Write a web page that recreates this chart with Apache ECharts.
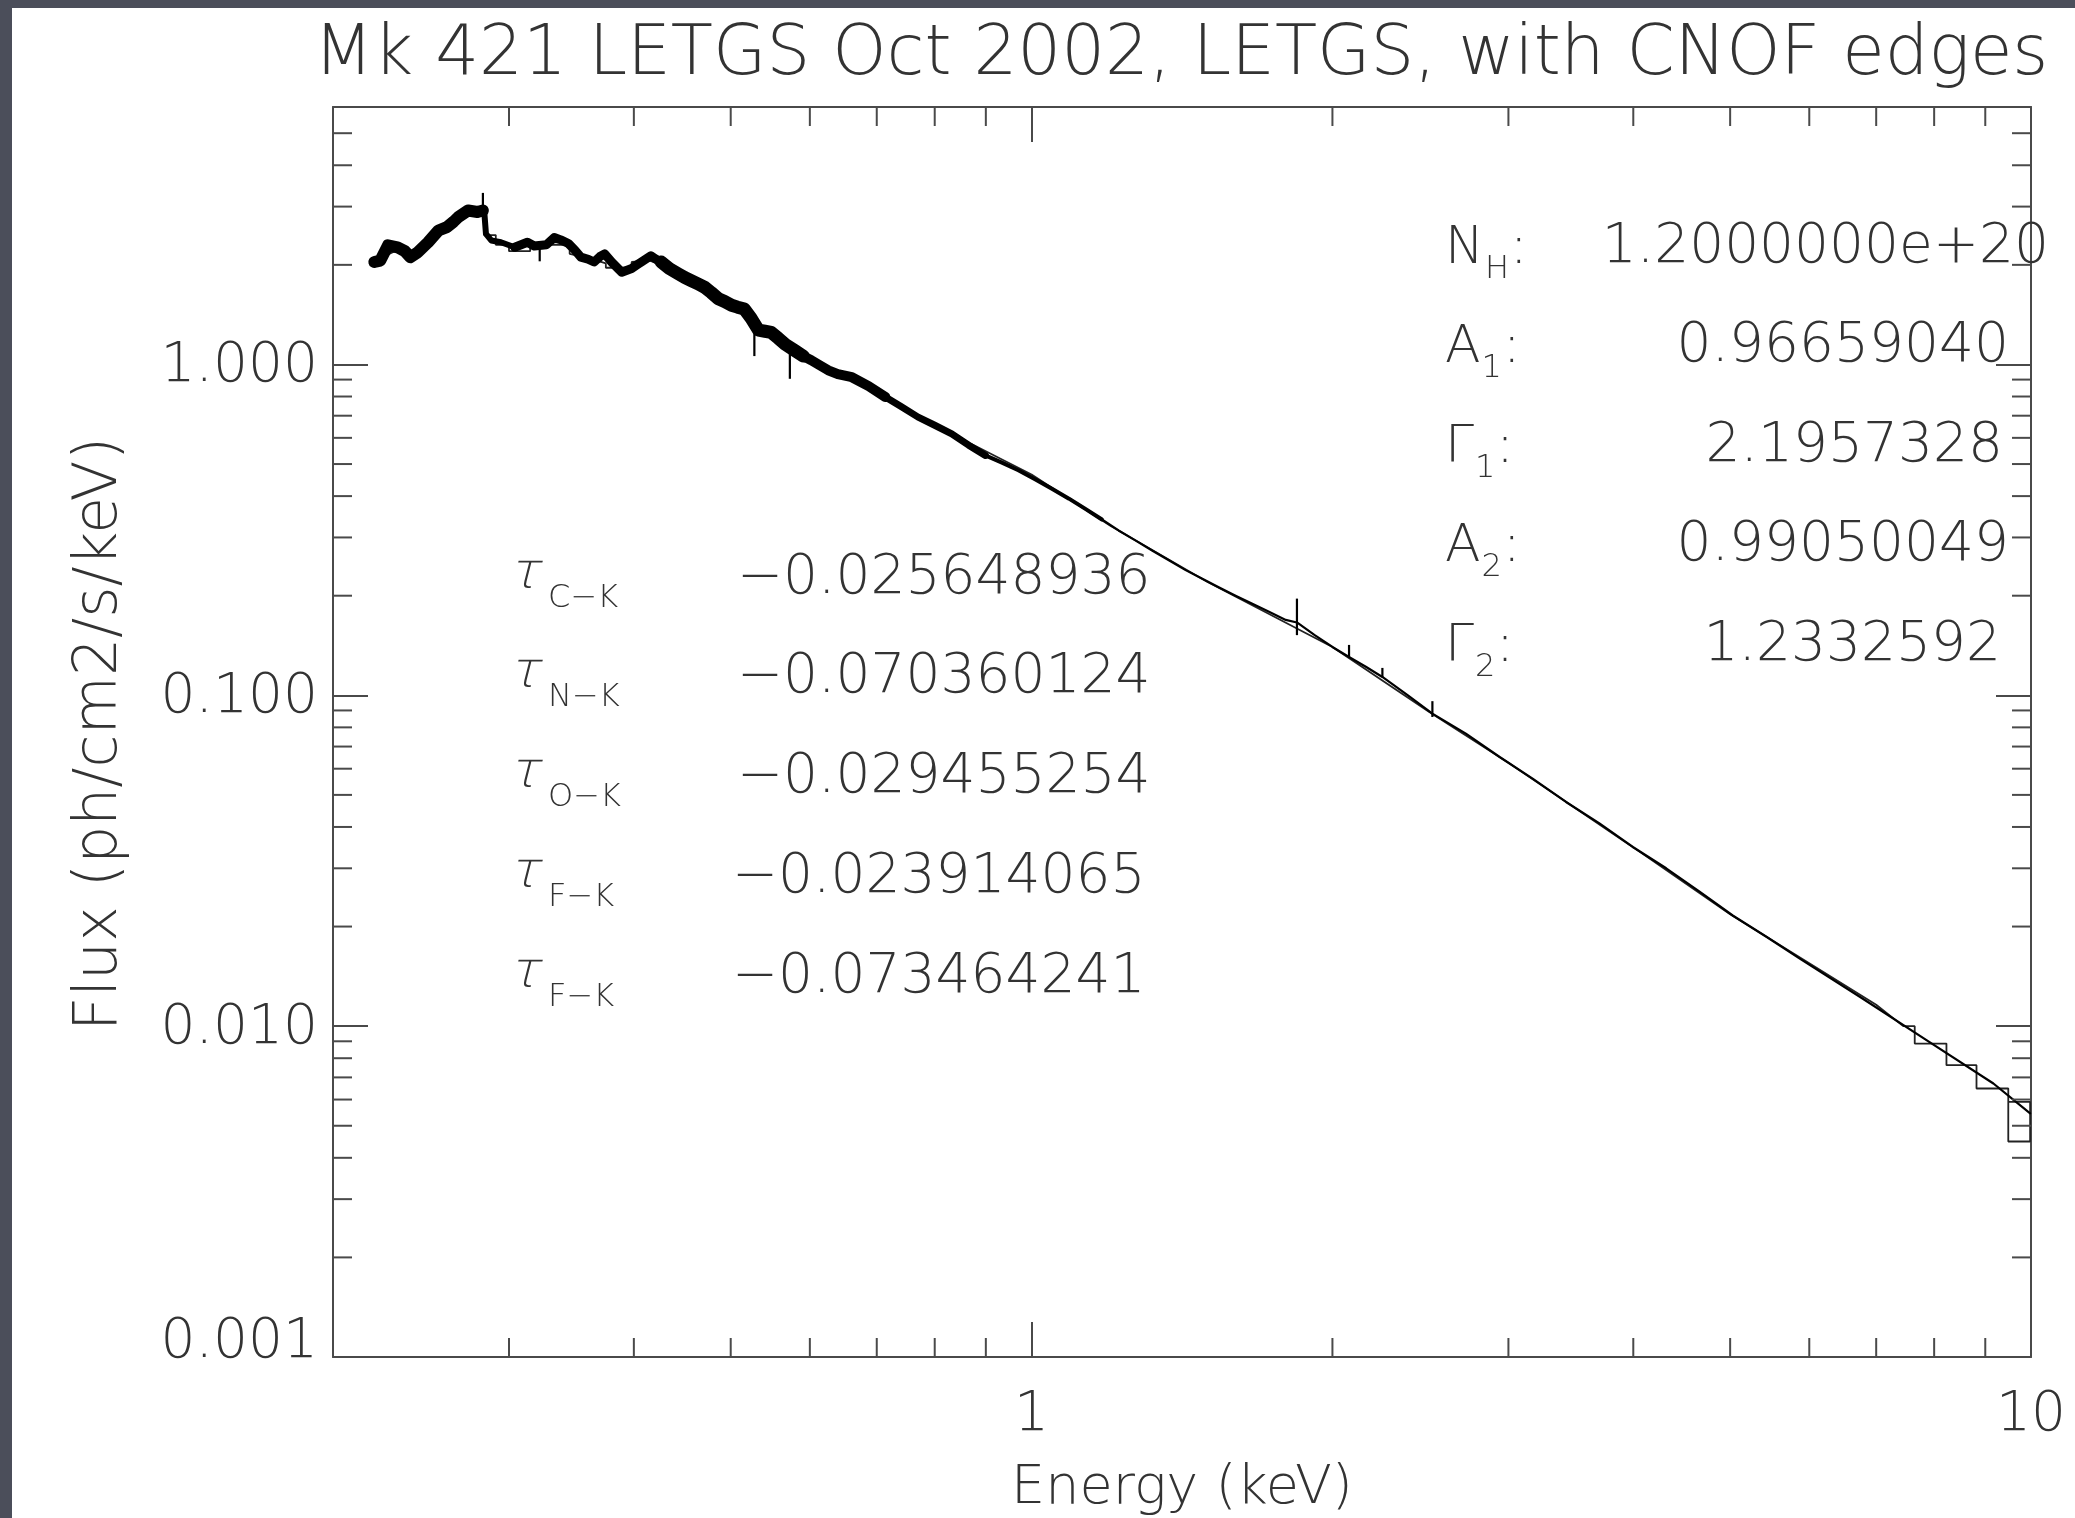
<!DOCTYPE html>
<html>
<head>
<meta charset="utf-8">
<script src="https://cdn.jsdelivr.net/npm/echarts@6/dist/echarts.min.js"></script>
<style>
html,body{margin:0;padding:0;background:#4b4e5a;}
#chart{width:2075px;height:1518px;}
</style>
</head>
<body>
<div id="chart"></div>
<script>
// ---------------- text ----------------
const titleText = 'Mk 421 LETGS Oct 2002, LETGS, with CNOF edges';
const xAxisTitle = 'Energy (keV)';
const yAxisTitle = 'Flux (ph/cm2/s/keV)';

// ---------------- axes ----------------
const xRange = [0.2, 10];
const yRange = [0.001, 6];
const xMinorTicks = [0.3, 0.4, 0.5, 0.6, 0.7, 0.8, 0.9, 2, 3, 4, 5, 6, 7, 8, 9];
const yMinorTicks = [0.002, 0.003, 0.004, 0.005, 0.006, 0.007, 0.008, 0.009,
                     0.02, 0.03, 0.04, 0.05, 0.06, 0.07, 0.08, 0.09,
                     0.2, 0.3, 0.4, 0.5, 0.6, 0.7, 0.8, 0.9,
                     2, 3, 4, 5];

// ---------------- data: [energy keV, flux] ----------------
const dataPoints = [
  [0.220,2.04],[0.223,2.06],[0.227,2.29],[0.232,2.26],[0.236,2.20],[0.239,2.11],[0.243,2.18],
  [0.249,2.34],[0.255,2.54],[0.260,2.60],[0.264,2.70],[0.267,2.79],[0.273,2.92],[0.279,2.89],
  [0.2825,2.92],[0.2835,2.85],[0.2845,2.48],[0.288,2.37],[0.2945,2.34],[0.304,2.26],[0.313,2.34],
  [0.318,2.28],[0.327,2.30],[0.333,2.42],[0.338,2.38],[0.344,2.32],[0.349,2.22],[0.354,2.11],
  [0.360,2.08],[0.365,2.04],[0.370,2.12],[0.374,2.16],[0.380,2.04],[0.385,1.96],[0.389,1.90],
  [0.398,1.95],[0.403,2.00],[0.407,2.04],[0.416,2.13],[0.421,2.08],[0.426,2.04],[0.434,1.95],
  [0.443,1.88],[0.450,1.83],[0.457,1.79],[0.464,1.75],[0.471,1.71],[0.478,1.65],[0.486,1.58],
  [0.493,1.55],[0.501,1.51],[0.508,1.49],[0.516,1.47],[0.524,1.38],[0.533,1.27],[0.541,1.26],
  [0.549,1.25],[0.558,1.20],[0.567,1.15],[0.580,1.10],[0.591,1.06],[0.602,1.03],[0.612,1.00],
  [0.626,0.96],[0.640,0.935],[0.661,0.915],[0.687,0.86],[0.714,0.797],[0.741,0.745],[0.770,0.693],
  [0.800,0.655],[0.832,0.617],[0.865,0.570],[0.899,0.531],[0.934,0.505],[0.970,0.479],[1.008,0.450],
  [1.048,0.421],[1.090,0.393],[1.132,0.366],[1.176,0.340],[1.222,0.315],[1.270,0.294],[1.320,0.274],
  [1.372,0.256],[1.426,0.239],[1.482,0.225],[1.539,0.212],[1.600,0.200],[1.663,0.189],[1.728,0.179],
  [1.796,0.169],[1.843,0.166],[1.920,0.152],[2.000,0.140],[2.078,0.1305],[2.160,0.122],[2.244,0.1136],
  [2.380,0.100],[2.518,0.088],[2.720,0.0766],[2.940,0.0651],[3.172,0.0560],[3.426,0.0476],[3.700,0.0410],
  [3.996,0.0348],[4.315,0.0300],[4.660,0.0255],[5.030,0.0216],[5.440,0.0186],[5.870,0.0160],
  [6.740,0.01227],[7.860,0.00907],[9.170,0.00671],[9.980,0.00545]
];

// narrow spikes / dips in the data: [energy, low flux, high flux]
const spikePoints = [
  [0.2825,2.95,3.30],[0.322,2.05,2.30],[0.528,1.06,1.36],[0.573,0.905,1.12],
  [1.843,0.152,0.196],[2.078,0.1305,0.142],[2.244,0.1136,0.121],[2.518,0.086,0.096]
];

// binned model (histogram steps): [energy, flux]
const modelPoints = [
  [0.220,2.05],[0.232,2.22],[0.240,2.14],[0.250,2.36],[0.262,2.64],[0.272,2.86],[0.2835,2.92],
  [0.2835,2.46],[0.291,2.46],[0.291,2.30],[0.300,2.30],[0.300,2.20],[0.315,2.20],[0.315,2.27],
  [0.330,2.30],[0.345,2.30],[0.345,2.16],[0.360,2.10],[0.375,2.02],[0.375,1.96],[0.398,1.96],
  [0.398,2.04],[0.415,2.06],[0.430,1.98],[0.460,1.77],[0.500,1.52],[0.530,1.30],[0.560,1.20],
  [0.600,1.04],[0.700,0.83],[0.800,0.655],[1.000,0.465],[1.200,0.325],[1.500,0.220],[2.000,0.140],
  [2.500,0.089],[3.000,0.0625],[4.000,0.0347],[5.000,0.0218],[6.000,0.0155],[7.000,0.0116],
  [7.450,0.0100],[7.650,0.0100],[7.650,0.00886],[8.230,0.00886],[8.230,0.00762],[8.820,0.00762],
  [8.820,0.00648],[9.490,0.00648],[9.490,0.00448],[9.980,0.00448],[9.980,0.0059],[9.490,0.0059]
];

// ---------------- annotations ----------------
const fitLetters = ['N', 'A', '\u0393', 'A', '\u0393'];
const fitSubs = ['H', '1', '1', '2', '2'];
const fitValues = ['1.2000000e+20', '0.96659040', '2.1957328', '0.99050049', '1.2332592'];
const edgeSubs = ['C\u2212K', 'N\u2212K', 'O\u2212K', 'F\u2212K', 'F\u2212K'];
const edgeValues = ['\u22120.025648936', '\u22120.070360124', '\u22120.029455254', '\u22120.023914065', '\u22120.073464241'];

// ---------------- style / layout ----------------
const FONT = '"DejaVu Sans", "Liberation Sans", sans-serif';
const FW = 200;
const INK = '#333';
const FRAME = {color: '#4a4a4a', width: 2};
const GRID = {left: 333, right: 44, top: 107, bottom: 161};
// line width of the noisy data band per energy range
const bandEdges = [0.2835, 0.31, 0.43, 0.60, 0.72, 0.90, 1.2];
const bandWidths = [12, 6, 9, 13, 10, 7, 4, 2.2];

const fitRowBase = [267, 366, 466, 565, 665];
const fitValueRight = [2049, 2009, 2003, 2009, 2001];
const edgeRowBase = [598, 697, 797, 897, 997];
const edgeValueLeft = [737, 737, 737, 732, 732];

// ---------------- helpers ----------------
const mctx = document.createElement('canvas').getContext('2d');
function tw(text, size) {
  mctx.font = FW + ' ' + size + 'px ' + FONT;
  return mctx.measureText(text).width;
}
function txt(x, baseline, text, size, align, extraStyle, extraEl) {
  return Object.assign({
    type: 'text', x: x, y: baseline - 0.346 * size, silent: true, z: 100,
    style: Object.assign({text: text, fontSize: size, fontFamily: FONT, fontWeight: FW, fill: INK,
      align: align || 'left', verticalAlign: 'middle'}, extraStyle || {})
  }, extraEl || {});
}
function isPow10(v) {
  const l = Math.log10(v);
  return Math.abs(l - Math.round(l)) < 1e-6;
}

// split data into width bands (each band starts at previous band's last point)
function bandOf(e) { let i = 0; while (i < bandEdges.length && e >= bandEdges[i]) i++; return i; }
const bandSeries = [];
for (let b = 0; b <= bandEdges.length; b++) {
  const pts = [];
  dataPoints.forEach((p, i) => {
    if (bandOf(p[0]) === b) {
      if (pts.length === 0 && i > 0) pts.push(dataPoints[i - 1]);
      pts.push(p);
    }
  });
  if (pts.length) {
    bandSeries.push({
      type: 'line', name: 'data', data: pts, symbol: 'none', showSymbol: false, silent: true,
      z: 3, animation: false, clip: true,
      lineStyle: {color: '#000', width: bandWidths[b], join: 'round', cap: 'round'}
    });
  }
}

function minorTickSeries(values, isX) {
  return {
    type: 'custom', silent: true, animation: false, clip: false, z: 5,
    data: values.map(v => isX ? [v, 1] : [1, v]),
    renderItem: function (params, api) {
      const cs = params.coordSys;
      const p = api.coord([api.value(0), api.value(1)]);
      const L = 19;
      const st = {stroke: FRAME.color, lineWidth: FRAME.width};
      if (isX) {
        return {type: 'group', children: [
          {type: 'line', shape: {x1: p[0], y1: cs.y + cs.height, x2: p[0], y2: cs.y + cs.height - L}, style: st},
          {type: 'line', shape: {x1: p[0], y1: cs.y, x2: p[0], y2: cs.y + L}, style: st}
        ]};
      }
      return {type: 'group', children: [
        {type: 'line', shape: {x1: cs.x, y1: p[1], x2: cs.x + L, y2: p[1]}, style: st},
        {type: 'line', shape: {x1: cs.x + cs.width, y1: p[1], x2: cs.x + cs.width - L, y2: p[1]}, style: st}
      ]};
    }
  };
}

const spikeSeries = {
  type: 'custom', silent: true, animation: false, z: 4,
  encode: {x: 0, y: [1, 2]},
  data: spikePoints,
  renderItem: function (params, api) {
    const a = api.coord([api.value(0), api.value(1)]);
    const b = api.coord([api.value(0), api.value(2)]);
    return {type: 'line', shape: {x1: a[0], y1: a[1], x2: b[0], y2: b[1]}, style: {stroke: '#000', lineWidth: 2.2}};
  }
};

const modelSeries = {
  type: 'line', name: 'model', data: modelPoints, symbol: 'none', showSymbol: false, silent: true,
  z: 2, animation: false, lineStyle: {color: '#222', width: 1.8}
};

// ---------------- graphic text ----------------
const graphics = [
  {type: 'rect', silent: true, z: -100, shape: {x: 12, y: 8, width: 2063, height: 1510}, style: {fill: '#ffffff'}},
  txt(1181, 80, titleText, 69, 'center'),
  txt(1182, 1508, xAxisTitle, 54, 'center'),
  {type: 'text', x: 100, y: 734, rotation: Math.PI / 2, silent: true, z: 100,
   style: {text: yAxisTitle, fontSize: 60, fontFamily: FONT, fontWeight: FW, fill: INK, align: 'center', verticalAlign: 'middle'}}
];
const LBL = 52, SUB = 32, VAL = 55;
fitLetters.forEach((L, i) => {
  const x0 = 1445, base = fitRowBase[i];
  const w1 = tw(L, LBL);
  const w2 = tw(fitSubs[i], SUB);
  graphics.push(txt(x0, base, L, LBL, 'left'));
  graphics.push(txt(x0 + w1 + 1, base + 14, fitSubs[i], SUB, 'left'));
  graphics.push(txt(x0 + w1 + w2 + 2, base, ':', LBL, 'left'));
  graphics.push(txt(fitValueRight[i], base, fitValues[i], VAL, 'right'));
});
edgeSubs.forEach((s, i) => {
  const base = edgeRowBase[i];
  const wt = tw('\u03c4', 50);
  graphics.push(txt(512, base - 6, '\u03c4', 50, 'left', null, {skewX: -0.25}));
  graphics.push(txt(512 + wt + 6, base + 12, s, SUB, 'left'));
  graphics.push(txt(edgeValueLeft[i], base, edgeValues[i], VAL, 'left'));
});

// ---------------- axes ----------------
function xLabel(v) { return (isPow10(v) && v >= 1) ? String(Math.round(v)) : ''; }
function yLabel(v) {
  if (!isPow10(v) || v > 1.5) return '';
  const s = v.toFixed(3);
  return Math.abs(v - yRange[0]) < 1e-9 ? '{lo|' + s + '}' : '{n|' + s + '}';
}
const tickCommon = {show: true, inside: true, length: 35, lineStyle: FRAME};
function xAxisDef(pos, showLabel) {
  return {
    type: 'log', logBase: 10, min: xRange[0], max: xRange[1], position: pos,
    axisLine: {show: true, onZero: false, lineStyle: FRAME},
    axisTick: tickCommon, minorTick: {show: false}, splitLine: {show: false},
    axisLabel: {show: showLabel, formatter: xLabel, fontSize: 55, fontFamily: FONT, fontWeight: FW, color: INK, margin: 31}
  };
}
function yAxisDef(pos, showLabel) {
  return {
    type: 'log', logBase: 10, min: yRange[0], max: yRange[1], position: pos,
    axisLine: {show: true, onZero: false, lineStyle: FRAME},
    axisTick: tickCommon, minorTick: {show: false}, splitLine: {show: false},
    axisLabel: {
      show: showLabel, formatter: yLabel, margin: 15,
      rich: {
        n: {fontSize: 55, fontFamily: FONT, fontWeight: FW, color: INK, padding: [5, 0, 0, 0]},
        lo: {fontSize: 55, fontFamily: FONT, fontWeight: FW, color: INK, padding: [0, 0, 28, 0]}
      }
    }
  };
}

const chart = echarts.init(document.getElementById('chart'), null, {renderer: 'canvas'});
chart.setOption({
  backgroundColor: '#4b4e5a',
  animation: false,
  grid: Object.assign({containLabel: false, outerBoundsMode: 'none'}, GRID),
  xAxis: [xAxisDef('bottom', true), xAxisDef('top', false)],
  yAxis: [yAxisDef('left', true), yAxisDef('right', false)],
  series: [modelSeries].concat(bandSeries, [spikeSeries, minorTickSeries(xMinorTicks, true), minorTickSeries(yMinorTicks, false)]),
  graphic: graphics
});
</script>
</body>
</html>
